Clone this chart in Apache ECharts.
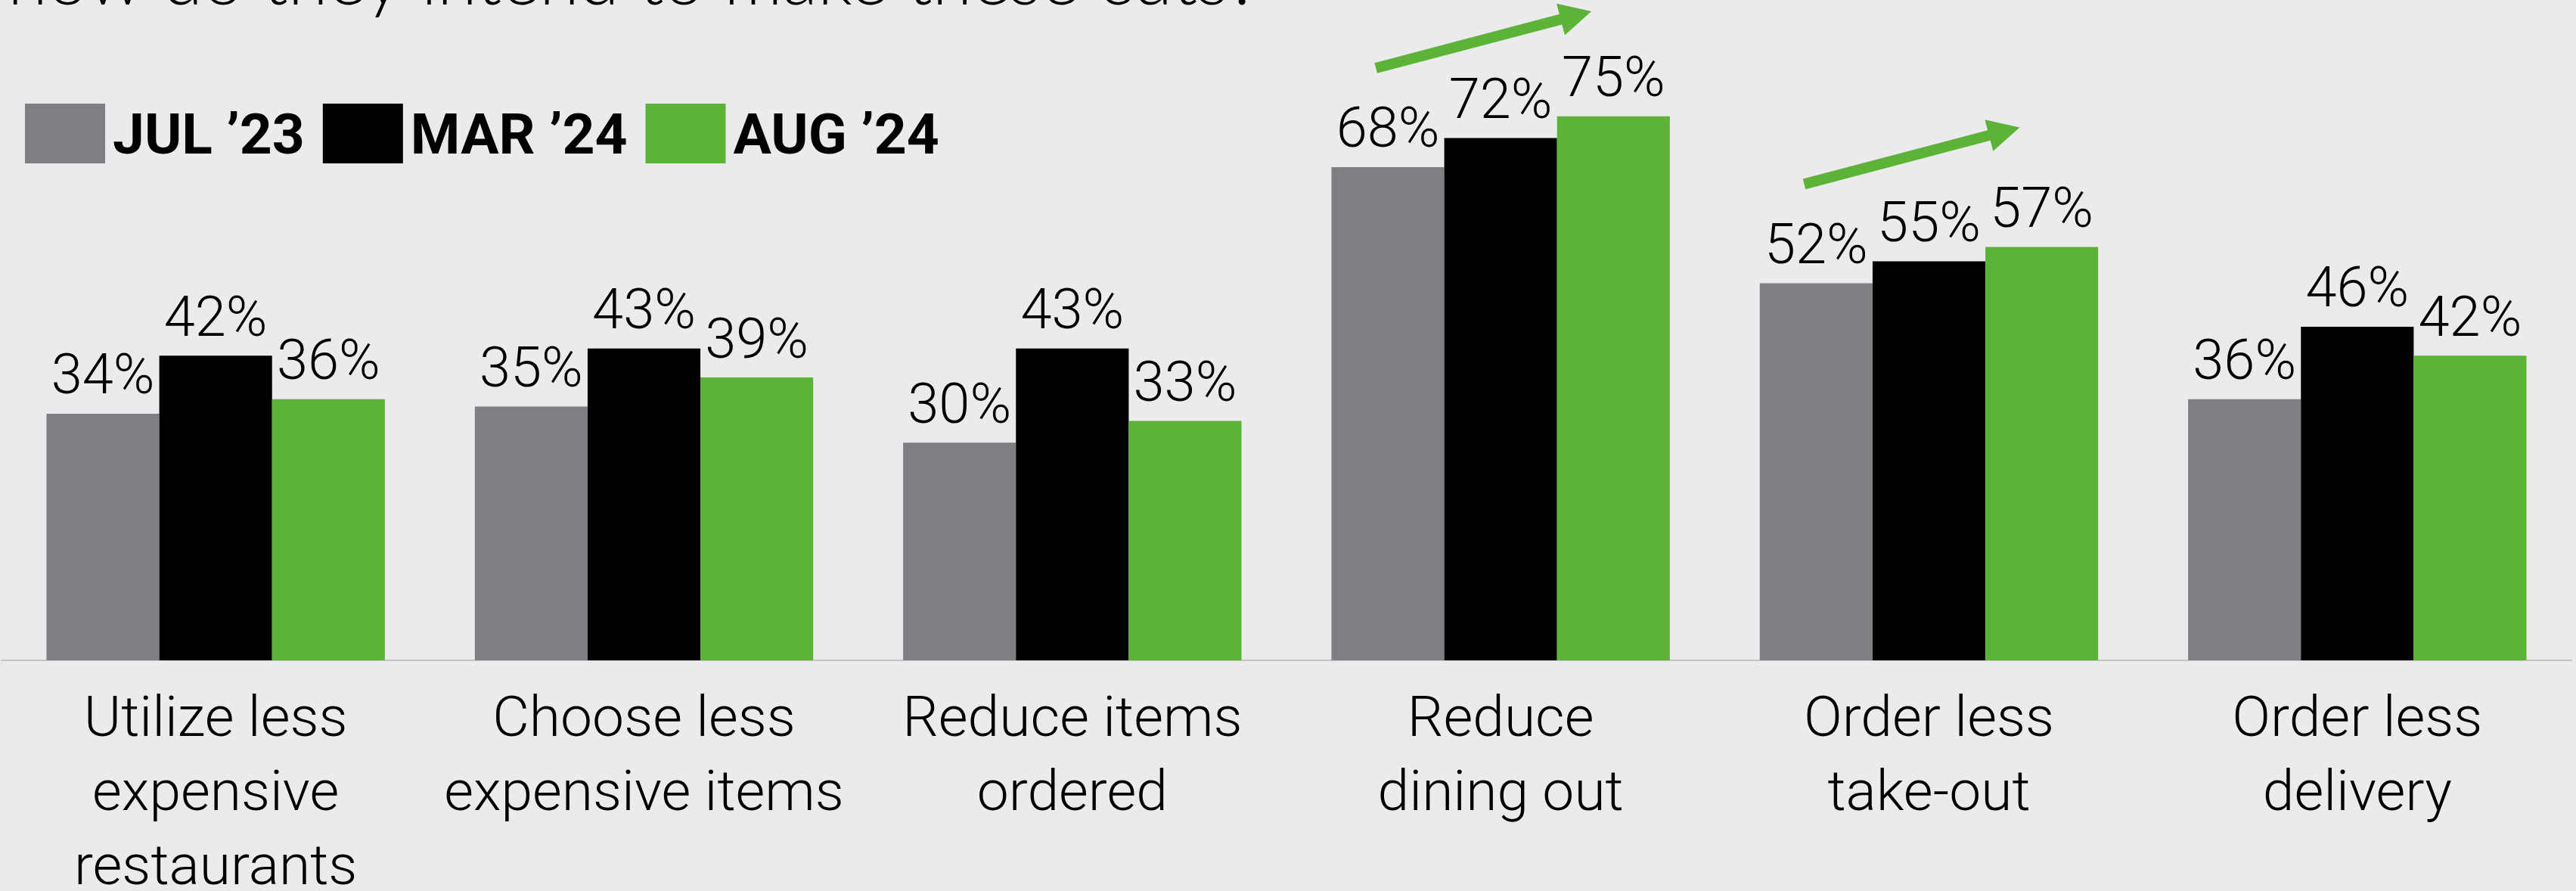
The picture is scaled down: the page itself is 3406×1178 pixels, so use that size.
<!DOCTYPE html>
<html>
<head>
<meta charset="utf-8">
<title>How do they intend to make these cuts?</title>
<script src="https://cdn.jsdelivr.net/npm/echarts@6/dist/echarts.min.js"></script>
<style>
  html, body { margin: 0; padding: 0; background: #ebebed; }
  #chart { width: 3406px; height: 1178px; }
</style>
</head>
<body>
<div id="chart"></div>
<script>
// Ways of cutting back on restaurant spending, share of respondents (%)
const categories = [
  'Utilize less\nexpensive\nrestaurants',
  'Choose less\nexpensive items',
  'Reduce items\nordered',
  'Reduce\ndining out',
  'Order less\ntake-out',
  'Order less\ndelivery'
];
const seriesNames = ['JUL \u201923', 'MAR \u201924', 'AUG \u201924'];
const jul23 = [34, 35, 30, 68, 52, 36];
const mar24 = [42, 43, 43, 72, 55, 46];
const aug24 = [36, 39, 33, 75, 57, 42];
// Categories whose share keeps rising get a trend arrow
const risingCategories = ['Reduce\ndining out', 'Order less\ntake-out'];

const headline = 'how do they intend to make these cuts?';

const colors = ['#7f7e83', '#000000', '#5db337'];
const FONT = 'Roboto, "Noto Sans", sans-serif';

const chart = echarts.init(document.getElementById('chart'), null, { renderer: 'canvas' });

function barSeries(name, values, color) {
  return {
    name: name,
    type: 'bar',
    data: values,
    barGap: '0%',
    barCategoryGap: '21%',
    itemStyle: { color: color },
    label: {
      show: true,
      position: 'top',
      distance: 8,
      formatter: '{c}%',
      color: '#000',
      fontFamily: FONT,
      fontWeight: 300,
      fontSize: 74
    },
    emphasis: { disabled: true }
  };
}

chart.setOption({
  backgroundColor: '#ebebed',
  animation: false,
  color: colors,
  legend: {
    left: 33,
    top: 137,
    padding: 0,
    icon: 'rect',
    itemWidth: 106,
    itemHeight: 79,
    itemGap: 24,
    selectedMode: false,
    formatter: '{n|{name}}',
    textStyle: {
      color: '#000',
      fontFamily: FONT,
      fontWeight: 'bold',
      fontSize: 75,
      rich: {
        n: {
          color: '#000',
          fontFamily: FONT,
          fontWeight: 'bold',
          fontSize: 75,
          padding: [16, 0, 0, 5]
        }
      }
    },
    data: seriesNames
  },
  grid: {
    left: 2, right: 6, top: 10, bottom: 305,
    containLabel: false,
    outerBoundsMode: 'none'
  },
  xAxis: {
    type: 'category',
    data: categories,
    axisLine: { show: true, lineStyle: { color: '#c4c4c6', width: 2 } },
    axisTick: { show: false },
    axisLabel: {
      interval: 0,
      margin: 32,
      color: '#000',
      fontFamily: FONT,
      fontWeight: 300,
      fontSize: 75,
      lineHeight: 98
    }
  },
  yAxis: {
    type: 'value',
    min: 0,
    max: 90,
    show: false,
    splitLine: { show: false }
  },
  series: [
    barSeries(seriesNames[0], jul23, colors[0]),
    barSeries(seriesNames[1], mar24, colors[1]),
    barSeries(seriesNames[2], aug24, colors[2])
  ]
});

// Trend arrow: a thick shaft with a triangular head, anchored above the
// first bar of the group it annotates.
function arrowPoints(tx, ty, dx, dy) {
  const len = Math.hypot(dx, dy);
  const ux = dx / len, uy = dy / len;
  const nx = -uy, ny = ux;
  const shaftHalf = 7, headHalf = 21.5, headLen = 42;
  const bx = tx + ux * (len - headLen), by = ty + uy * (len - headLen);
  return [
    [tx + nx * shaftHalf, ty + ny * shaftHalf],
    [bx + nx * shaftHalf, by + ny * shaftHalf],
    [bx + nx * headHalf, by + ny * headHalf],
    [tx + ux * len, ty + uy * len],
    [bx - nx * headHalf, by - ny * headHalf],
    [bx - nx * shaftHalf, by - ny * shaftHalf],
    [tx - nx * shaftHalf, ty - ny * shaftHalf]
  ];
}

const graphics = [{
  type: 'text',
  left: 10,
  top: -73,
  silent: true,
  style: {
    text: headline,
    fill: '#000',
    font: '300 96px Lato, "Noto Sans", sans-serif'
  }
}];

risingCategories.forEach(function (cat) {
  const i = categories.indexOf(cat);
  const p = chart.convertToPixel({ xAxisIndex: 0, yAxisIndex: 0 }, [i, jul23[i]]);
  const tx = p[0] - 165, ty = p[1] - 131;
  graphics.push({
    type: 'polygon',
    silent: true,
    shape: { points: arrowPoints(tx, ty, 285, -75) },
    style: { fill: colors[2] }
  });
});

chart.setOption({ graphic: graphics });
</script>
</body>
</html>
